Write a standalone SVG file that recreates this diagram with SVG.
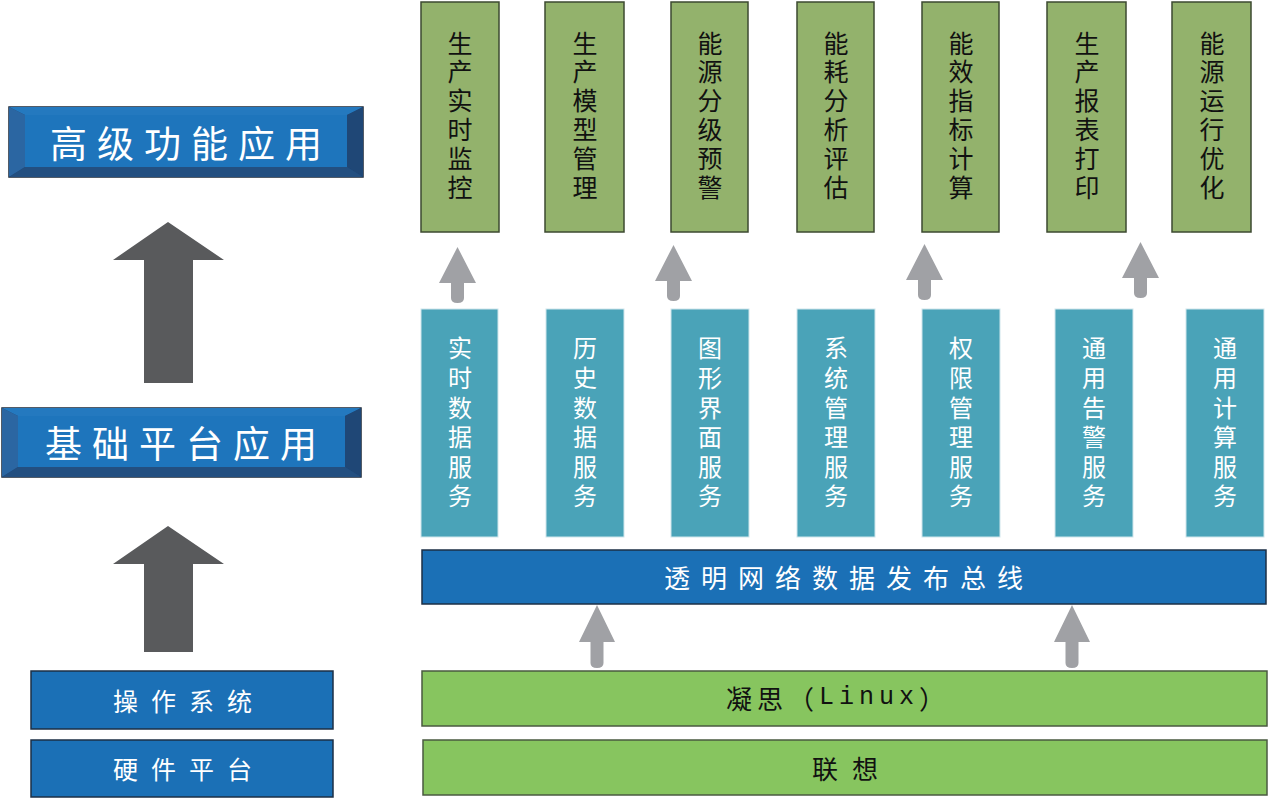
<svg xmlns="http://www.w3.org/2000/svg" width="1269" height="799" viewBox="0 0 1269 799">
<defs>
<style>
.cjk{font-family:"Noto Sans CJK SC","Noto Sans",sans-serif;}
.app rect{fill:#93b26c;stroke:#3d4a30;stroke-width:1.5;}
.app text{fill:#111;font-size:25px;text-anchor:middle;writing-mode:vertical-rl;letter-spacing:3.8px;}
.svc rect{fill:#4aa3b8;stroke:#cfe6ec;stroke-width:1;}
.svc text{fill:#fff;font-size:24px;text-anchor:middle;writing-mode:vertical-rl;letter-spacing:5.6px;}
.bar{fill:#1b70b6;stroke:#1d2f45;stroke-width:1.5;}
.gbar{fill:#87c55f;stroke:#4a5a40;stroke-width:1.5;}
.wt{fill:#fff;text-anchor:middle;}
.bt{fill:#111;text-anchor:middle;}
.garr{fill:#a0a1a5;}
.darr{fill:#595a5c;}
</style>
</defs>
<rect width="1269" height="799" fill="#fff"/>

<g id="heading-advanced">
<rect x="9" y="107" width="354" height="70" fill="#1e4b7c" stroke="#1a2636" stroke-width="1.5"/>
<polygon points="9,107 363,107 347,115 25,115" fill="#2479bf"/>
<polygon points="9,107 25,115 25,167 9,177" fill="#2b66a2"/>
<polygon points="363,107 363,177 347,167 347,115" fill="#1f4776"/>
<polygon points="9,177 25,167 347,167 363,177" fill="#234f80"/>
<rect x="25" y="115" width="322" height="52" fill="#1e75bc"/>
<text class="cjk wt" x="191" y="142" font-size="37" letter-spacing="10" dominant-baseline="central">高级功能应用</text>
</g>

<g id="heading-base">
<rect x="2" y="408" width="359" height="69" fill="#1e4b7c" stroke="#1a2636" stroke-width="1.5"/>
<polygon points="2,408 361,408 345,416 18,416" fill="#2479bf"/>
<polygon points="2,408 18,416 18,467 2,477" fill="#2b66a2"/>
<polygon points="361,408 361,477 345,467 345,416" fill="#1f4776"/>
<polygon points="2,477 18,467 345,467 361,477" fill="#234f80"/>
<rect x="18" y="416" width="327" height="51" fill="#1e75bc"/>
<text class="cjk wt" x="186" y="442" font-size="37" letter-spacing="10" dominant-baseline="central">基础平台应用</text>
</g>

<g id="os-box">
<rect class="bar" x="31" y="671" width="302" height="58"/>
<text class="cjk wt" x="189" y="700" font-size="25" letter-spacing="13" dominant-baseline="central">操作系统</text>
</g>
<g id="hw-box">
<rect class="bar" x="31" y="740" width="302" height="57"/>
<text class="cjk wt" x="189" y="768" font-size="25" letter-spacing="13" dominant-baseline="central">硬件平台</text>
</g>

<g id="app1" class="app"><rect x="421" y="2" width="78" height="230"/><text class="cjk" x="460" y="117">生产实时监控</text></g>
<g id="app2" class="app"><rect x="545" y="2" width="79" height="230"/><text class="cjk" x="585" y="117">生产模型管理</text></g>
<g id="app3" class="app"><rect x="671" y="2" width="77" height="230"/><text class="cjk" x="710" y="117">能源分级预警</text></g>
<g id="app4" class="app"><rect x="797" y="2" width="77" height="230"/><text class="cjk" x="836" y="117">能耗分析评估</text></g>
<g id="app5" class="app"><rect x="922" y="2" width="77" height="230"/><text class="cjk" x="961" y="117">能效指标计算</text></g>
<g id="app6" class="app"><rect x="1047" y="2" width="79" height="230"/><text class="cjk" x="1087" y="117">生产报表打印</text></g>
<g id="app7" class="app"><rect x="1172" y="2" width="79" height="230"/><text class="cjk" x="1212" y="117">能源运行优化</text></g>

<g id="svc1" class="svc"><rect x="421" y="309" width="77" height="228"/><text class="cjk" x="460" y="425">实时数据服务</text></g>
<g id="svc2" class="svc"><rect x="546" y="309" width="78" height="228"/><text class="cjk" x="585" y="425">历史数据服务</text></g>
<g id="svc3" class="svc"><rect x="671" y="309" width="78" height="228"/><text class="cjk" x="710" y="425">图形界面服务</text></g>
<g id="svc4" class="svc"><rect x="797" y="309" width="78" height="228"/><text class="cjk" x="836" y="425">系统管理服务</text></g>
<g id="svc5" class="svc"><rect x="922" y="309" width="78" height="228"/><text class="cjk" x="961" y="425">权限管理服务</text></g>
<g id="svc6" class="svc"><rect x="1055" y="309" width="78" height="228"/><text class="cjk" x="1094" y="425">通用告警服务</text></g>
<g id="svc7" class="svc"><rect x="1186" y="309" width="78" height="228"/><text class="cjk" x="1225" y="425">通用计算服务</text></g>

<g id="bus">
<rect class="bar" x="422" y="550" width="844" height="54"/>
<text class="cjk wt" x="849" y="576" font-size="26" letter-spacing="11" dominant-baseline="central">透明网络数据发布总线</text>
</g>

<g id="linux">
<rect class="gbar" x="422" y="671" width="845" height="55"/>
<text class="cjk bt" x="838" y="697" font-size="26" letter-spacing="5" dominant-baseline="central">凝思（<tspan font-family="Liberation Mono" font-size="25">Linux</tspan>）</text>
</g>
<g id="lenovo">
<rect class="gbar" x="423" y="740" width="844" height="55"/>
<text class="cjk bt" x="852" y="767" font-size="26" letter-spacing="14" dominant-baseline="central">联想</text>
</g>

<g id="connectors">
<polygon class="darr" points="168,222 224,260 193,260 193,383 144,383 144,260 113,260"/>
<polygon class="darr" points="168,526 224,564 193,564 193,652 144,652 144,564 113,564"/>
<path class="garr" d="M457.5,247 L476,283 L464,283 L464,298 Q464,303 457.5,303 Q451,303 451,298 L451,283 L439,283 Z"/>
<path class="garr" d="M673.5,245 L692,281 L680,281 L680,296 Q680,301 673.5,301 Q667,301 667,296 L667,281 L655,281 Z"/>
<path class="garr" d="M924.5,244 L943,280 L931,280 L931,295 Q931,300 924.5,300 Q918,300 918,295 L918,280 L906,280 Z"/>
<path class="garr" d="M1140.5,242 L1159,278 L1147,278 L1147,293 Q1147,298 1140.5,298 Q1134,298 1134,293 L1134,278 L1122,278 Z"/>
<path class="garr" d="M597,605 L615,642 L603.5,642 L603.5,663 Q603.5,668 597,668 Q590.5,668 590.5,663 L590.5,642 L579,642 Z"/>
<path class="garr" d="M1072,605 L1090,642 L1078.5,642 L1078.5,663 Q1078.5,668 1072,668 Q1065.5,668 1065.5,663 L1065.5,642 L1054,642 Z"/>
</g>
</svg>
